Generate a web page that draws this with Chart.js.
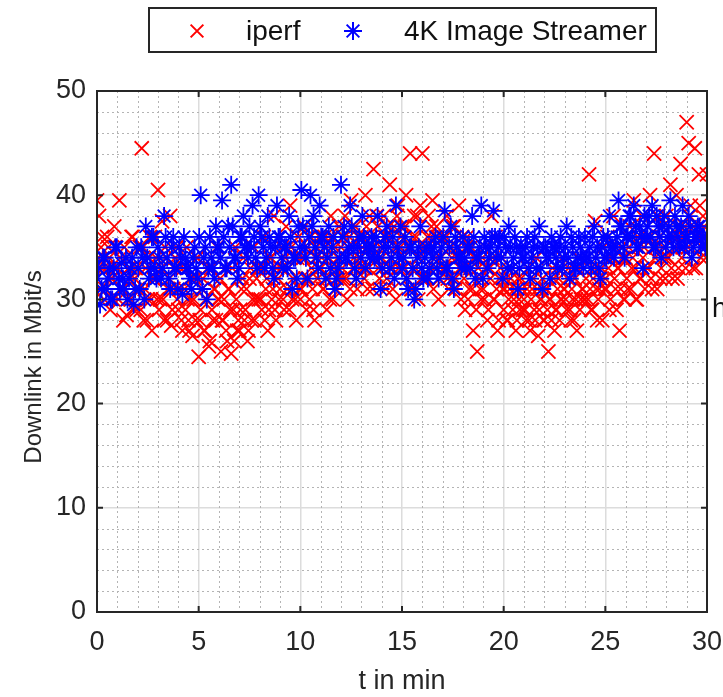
<!DOCTYPE html>
<html>
<head>
<meta charset="utf-8" />
<title>Downlink</title>
<script src="https://cdn.jsdelivr.net/npm/chart.js@4/dist/chart.umd.min.js"></script>
<style>
  body { margin: 0; background: #fff; }
  #wrapper { width: 723px; height: 697px; position: relative; }
</style>
</head>
<body>
<div id="wrapper">
  <canvas id="myChart"></canvas>
</div>
<script>
// iperf samples, one every 0.1 min (t = 0 .. 29.9), plus last one at 30
var iperfStep = 0.1;
var iperf = [
  39.5, 38, 35, 33, 31, 36, 34, 32, 30, 35,
  33, 39.5, 31, 28, 34, 30, 32, 36, 29, 33,
  31, 35, 44.5, 28, 33, 30, 36, 27, 32, 34,
  40.5, 30, 37.5, 28, 34, 31, 38, 29, 33, 35,
  29, 33, 27, 31, 35, 28, 30, 26.5, 32, 34,
  24.5, 29, 32, 27, 30, 25.5, 33, 28, 31, 35,
  30, 25, 28, 33, 26, 31, 24.8, 29, 35, 27,
  27, 31, 34, 29, 26, 32, 28, 35, 30, 33,
  33, 29, 36, 31, 27, 34, 30, 38, 28, 32,
  31, 35, 29, 37, 33, 39, 30, 34, 28, 36,
  30, 34, 37, 29, 32, 36, 31, 28, 35, 33,
  33, 31, 36, 29, 34, 38, 30, 35, 32, 37,
  35, 32, 38, 30, 36, 39.5, 33, 37, 31, 34,
  36, 33, 40, 31, 38, 35, 42.5, 34, 37, 32,
  34, 38, 31, 36, 41, 33, 37, 30, 39, 35,
  37, 33, 40, 35, 44, 31, 38, 36, 30, 39,
  44, 35, 32, 38, 36, 39.5, 33, 37, 30, 34,
  36, 33, 38, 31, 35, 37, 32, 34, 39, 30,
  33, 29, 36, 31, 35, 27, 34, 25, 32, 30,
  31, 35, 28, 33, 38, 30, 36, 27, 32, 34,
  29, 32, 28, 31, 33, 30, 27, 32, 29, 31,
  30, 28, 33, 27, 31, 29, 34, 26.5, 30, 32,
  28, 31, 25, 30, 33, 27, 29, 32, 30, 34,
  31, 29, 33, 28, 30, 32, 27, 34, 30, 31,
  30, 34, 42, 29, 32, 37.5, 28, 31, 33, 35,
  32, 36, 29, 34, 38, 31, 33, 27, 35, 30,
  34, 31, 37, 33, 39.5, 30, 36, 32, 38, 35,
  36, 33, 40, 31, 44, 35, 38, 32, 37, 34,
  38, 34, 41, 32, 36, 40, 33, 43, 35, 37,
  47, 45, 39, 33, 44.5, 36, 42, 34, 38, 35,
  42
];
// second pass of iperf samples, shifted by half a step
var iperfB = [
  34, 31, 36, 30, 33, 35, 29, 32, 37, 33,
  30, 34, 31, 35, 28.5, 33, 30, 36, 32, 29,
  33, 29, 35, 31, 28, 34, 30, 32, 36, 30,
  29, 33, 30, 35, 28, 32, 27.5, 31, 34, 30,
  31, 28, 33, 29, 30, 27, 32, 30, 28, 34,
  28, 31, 27, 30, 33, 26, 29, 31, 28, 30,
  32, 28, 30, 27, 31, 29, 33, 26, 30, 28,
  29, 32, 28, 31, 27, 33, 30, 28, 32, 30,
  30, 33, 28, 32, 29, 34, 31, 29, 33, 30,
  33, 30, 34, 31, 29, 35, 32, 30, 34, 31,
  31, 34, 32, 35, 30, 33, 29, 34, 32, 36,
  34, 31, 35, 32, 30, 36, 33, 31, 34, 32,
  33, 36, 32, 35, 31, 37, 34, 32, 36, 33,
  35, 32, 37, 33, 36, 31, 34, 38, 33, 35,
  33, 36, 32, 37, 34, 31, 35, 38, 33, 36,
  34, 37, 32, 35, 31, 36, 33, 38, 34, 32,
  35, 32, 36, 33, 37, 31, 34, 36, 32, 35,
  33, 36, 32, 35, 34, 37, 31, 35, 33, 36,
  32, 35, 30, 33, 31, 34, 29, 33, 31, 34,
  30, 33, 29, 32, 34, 30, 31, 28, 33, 31,
  31, 28, 30, 32, 29, 31, 28, 30, 32, 29,
  29, 31, 28, 30, 32, 28, 31, 29, 30, 28,
  31, 29, 30, 28, 32, 29, 31, 28, 30, 31,
  30, 32, 29, 31, 28, 30, 33, 29, 31, 30,
  32, 30, 31, 29, 33, 31, 30, 32, 28, 31,
  31, 33, 30, 34, 32, 29, 33, 31, 34, 30,
  32, 35, 31, 34, 33, 30, 35, 32, 34, 31,
  33, 36, 32, 35, 34, 31, 36, 33, 35, 32,
  34, 37, 33, 36, 35, 32, 37, 34, 36, 33,
  35, 38, 34, 37, 33, 36, 39, 35, 37, 34
];

// 4K Image Streamer samples, one every 0.15 min
var streamerStep = 0.15;
var streamer = [
  32, 29.5, 34, 31, 33, 30, 35, 32, 33.5, 31,
  30, 33, 29.5, 35, 31, 34, 37, 32, 36, 33,
  35, 32, 38, 34, 31, 36, 33, 35, 30.5, 34,
  33, 31, 35, 32, 40, 34, 30, 36, 33, 37,
  35, 39.5, 33, 37, 41, 34, 32, 36, 38, 35,
  37, 39, 34, 40, 36, 33, 38, 35, 32, 39,
  36, 33, 35, 38, 31, 34, 37, 40.5, 35, 32,
  40, 38, 34, 39, 36, 32, 37, 35, 31, 33,
  41, 37, 34, 39, 35, 32, 36, 38, 33, 35,
  36, 34, 38, 31, 35, 37, 33, 36, 39, 34,
  33, 36, 31, 35, 30, 34, 37, 32, 35, 33,
  34, 36, 32, 35, 38.5, 33, 37, 31, 35, 34,
  36, 33, 35, 38, 32, 34, 39, 36, 33, 35,
  38.5, 34, 36, 32, 35, 37, 33, 36, 31, 35,
  34, 36, 32, 35, 33, 37, 31, 35, 34, 36,
  35, 33, 36, 34, 37, 32, 35, 33, 36, 34,
  36, 34, 33, 37, 35, 32, 36, 34, 38, 35,
  35, 39.5, 37, 34, 36, 38, 39, 35, 37, 33,
  36, 38, 39, 35, 37, 34, 38, 36, 39.5, 35,
  37, 35, 39, 36, 38, 34, 36, 37, 35, 36
];
// second pass of streamer samples, shifted by half a step
var streamerB = [
  33, 31, 34, 32, 30, 33, 35, 31, 32, 34,
  32, 34, 31, 33, 35, 30, 34, 33, 36, 32,
  34, 33, 36, 32, 35, 33, 31, 34, 36, 33,
  32, 34, 33, 36, 31, 35, 33, 34, 32, 35,
  34, 36, 33, 35, 37, 34, 33, 36, 35, 34,
  35, 36, 33, 37, 35, 34, 36, 33, 35, 36,
  34, 35, 33, 36, 34, 32, 35, 37, 34, 36,
  37, 35, 33, 36, 35, 34, 33, 36, 32, 34,
  36, 34, 35, 37, 33, 35, 34, 36, 35, 34,
  35, 36, 34, 33, 36, 35, 34, 32, 35, 37,
  34, 32, 35, 33, 31, 35, 33, 34, 32, 35,
  35, 33, 34, 36, 33, 35, 32, 36, 34, 33,
  34, 35, 33, 36, 34, 35, 32, 35, 34, 36,
  36, 35, 34, 36, 33, 35, 34, 35, 33, 34,
  35, 33, 34, 36, 35, 33, 35, 34, 32, 35,
  34, 35, 33, 35, 34, 36, 33, 34, 35, 33,
  34, 35, 36, 34, 33, 35, 34, 36, 35, 34,
  36, 37, 35, 36, 38, 36, 37, 35, 36, 38,
  37, 36, 35, 38, 36, 37, 35, 37, 36, 38,
  36, 37, 35, 36, 37, 35, 36, 37, 36, 35
];

var seriesNames = ['iperf', '4K Image Streamer'];
var xTicks = [0, 5, 10, 15, 20, 25, 30];
var yTicks = [0, 10, 20, 30, 40, 50];

function toPoints(vals, step, offset) {
  var pts = [];
  for (var i = 0; i < vals.length; i++) {
    pts.push({ x: Math.round((i * step + offset) * 1000) / 1000, y: vals[i] });
  }
  return pts;
}

var FONT = 'Liberation Sans, Arial, sans-serif';
var TEXT = '#262626';

// minor grid, inner ticks, closed box, legend box, axis titles
var decorPlugin = {
  id: 'decor',
  beforeDatasetsDraw: function(chart) {
    var ctx = chart.ctx, a = chart.chartArea;
    var xs = chart.scales.x, ys = chart.scales.y;
    ctx.save();
    ctx.strokeStyle = '#b4b4b4';
    ctx.lineWidth = 1;
    ctx.setLineDash([2, 3]);
    for (var t = 1; t < 30; t++) {
      if (t % 5 === 0) continue;
      var px = Math.round(xs.getPixelForValue(t)) + 0.5;
      ctx.beginPath(); ctx.moveTo(px, a.top); ctx.lineTo(px, a.bottom); ctx.stroke();
    }
    for (var v = 2; v < 50; v += 2) {
      if (v % 10 === 0) continue;
      var py = Math.round(ys.getPixelForValue(v)) + 0.5;
      ctx.beginPath(); ctx.moveTo(a.left, py); ctx.lineTo(a.right, py); ctx.stroke();
    }
    ctx.restore();
  },
  afterDraw: function(chart) {
    var ctx = chart.ctx, a = chart.chartArea;
    var xs = chart.scales.x, ys = chart.scales.y;
    ctx.save();
    ctx.strokeStyle = TEXT;
    ctx.lineWidth = 2;
    ctx.strokeRect(a.left, a.top, a.right - a.left, a.bottom - a.top);
    xTicks.forEach(function(t) {
      var px = xs.getPixelForValue(t);
      ctx.beginPath();
      ctx.moveTo(px, a.bottom); ctx.lineTo(px, a.bottom - 6);
      ctx.moveTo(px, a.top); ctx.lineTo(px, a.top + 6);
      ctx.stroke();
    });
    yTicks.forEach(function(v) {
      var py = ys.getPixelForValue(v);
      ctx.beginPath();
      ctx.moveTo(a.left, py); ctx.lineTo(a.left + 6, py);
      ctx.moveTo(a.right, py); ctx.lineTo(a.right - 6, py);
      ctx.stroke();
    });

    // legend box
    ctx.lineWidth = 2;
    ctx.strokeStyle = TEXT;
    ctx.fillStyle = '#fff';
    ctx.fillRect(149, 8, 507, 44);
    ctx.strokeRect(149, 8, 507, 44);
    ctx.strokeStyle = '#ff0000';
    Chart.helpers.drawPoint(ctx, { pointStyle: 'crossRot', radius: 9, rotation: 0, borderWidth: 1.8 }, 197, 31);
    ctx.strokeStyle = '#0000ff';
    Chart.helpers.drawPoint(ctx, { pointStyle: 'star', radius: 9, rotation: 0, borderWidth: 1.8 }, 353, 31);
    ctx.fillStyle = '#111';
    ctx.font = '28px ' + FONT;
    ctx.textBaseline = 'middle';
    ctx.textAlign = 'left';
    ctx.fillText(seriesNames[0], 246, 32);
    ctx.fillText(seriesNames[1], 404, 32);

    // axis titles
    ctx.fillStyle = TEXT;
    ctx.textAlign = 'center';
    ctx.font = '27px ' + FONT;
    ctx.fillText('t in min', 402, 682);
    ctx.save();
    ctx.translate(34, 367);
    ctx.rotate(-Math.PI / 2);
    ctx.font = '24px ' + FONT;
    ctx.fillText('Downlink in Mbit/s', 0, 0);
    ctx.restore();

    // clipped label at the right edge
    ctx.textAlign = 'left';
    ctx.font = '27px ' + FONT;
    ctx.fillStyle = '#111';
    ctx.fillText('h', 712, 310);
    ctx.restore();
  }
};

var ctx = document.getElementById('myChart');
var myChart = new Chart(ctx, {
  type: 'scatter',
  data: {
    datasets: [{
      label: seriesNames[0],
      data: toPoints(iperf, iperfStep, 0).concat(toPoints(iperfB, iperfStep, 0.05)),
      pointStyle: 'crossRot',
      radius: 10,
      borderColor: '#ff0000',
      backgroundColor: '#ff0000',
      borderWidth: 1.8,
      order: 2
    }, {
      label: seriesNames[1],
      data: toPoints(streamer, streamerStep, 0).concat(toPoints(streamerB, streamerStep, 0.075)),
      pointStyle: 'star',
      radius: 9,
      borderColor: '#0000ff',
      backgroundColor: '#0000ff',
      borderWidth: 1.8,
      order: 1
    }]
  },
  options: {
    responsive: true,
    maintainAspectRatio: false,
    animation: false,
    layout: { padding: { top: 91, right: 16, left: 0, bottom: 0 } },
    plugins: {
      legend: { display: false },
      tooltip: { enabled: false }
    },
    scales: {
      x: {
        type: 'linear',
        min: 0, max: 30,
        afterFit: function(s) { s.height = 85; s.paddingLeft = 0; s.paddingRight = 0; },
        afterBuildTicks: function(s) { s.ticks = xTicks.map(function(v) { return { value: v }; }); },
        ticks: { font: { size: 27, family: FONT }, color: TEXT, padding: 14 },
        grid: { color: '#dcdcdc', lineWidth: 1.5, drawTicks: false },
        border: { display: false }
      },
      y: {
        min: 0, max: 50,
        afterFit: function(s) { s.width = 97; s.paddingTop = 0; s.paddingBottom = 0; },
        afterBuildTicks: function(s) { s.ticks = yTicks.map(function(v) { return { value: v }; }); },
        ticks: { font: { size: 27, family: FONT }, color: TEXT, padding: 11 },
        grid: { color: '#dcdcdc', lineWidth: 1.5, drawTicks: false },
        border: { display: false }
      }
    }
  },
  plugins: [decorPlugin]
});
</script>
</body>
</html>
